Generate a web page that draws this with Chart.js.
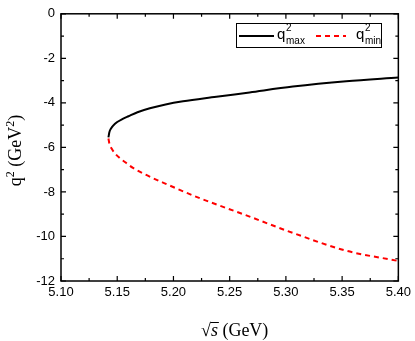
<!DOCTYPE html>
<html>
<head>
<meta charset="utf-8">
<script src="https://cdn.jsdelivr.net/npm/chart.js@4/dist/chart.umd.min.js"></script>
<style>
  html, body { margin: 0; padding: 0; background: #fff; }
  #wrap { width: 415px; height: 341px; }
</style>
</head>
<body>
<div id="wrap"><canvas id="chart" width="415" height="341"></canvas></div>
<script>
// values
const sqrtSMax = [5.1422, 5.1430, 5.1445, 5.1464, 5.1500, 5.1545, 5.1600, 5.1680, 5.1790, 5.1930, 5.2085, 5.2382, 5.2677, 5.3062, 5.3536, 5.4000];
const q2Max    = [-5.55, -5.32, -5.15, -5.02, -4.86, -4.73, -4.60, -4.42, -4.24, -4.07, -3.93, -3.73, -3.53, -3.27, -3.03, -2.86];
const sqrtSMin = [5.1422, 5.1430, 5.1450, 5.1479, 5.1520, 5.1575, 5.1640, 5.1730, 5.1938, 5.2234, 5.2626, 5.3062, 5.3536, 5.4000];
const q2Min    = [-5.60, -5.82, -6.05, -6.26, -6.47, -6.68, -6.92, -7.17, -7.65, -8.28, -9.01, -9.84, -10.64, -11.10];
const xTicks = [5.10, 5.15, 5.20, 5.25, 5.30, 5.35, 5.40];
const yTicks = [0, -2, -4, -6, -8, -10, -12];

const toPoints = (xs, ys) => xs.map((x, i) => ({ x: x, y: ys[i] }));

const framePlugin = {
  id: "frame",
  afterDraw(chart) {
    const ctx = chart.ctx;
    const a = chart.chartArea;
    const xs = chart.scales.x;
    const ys = chart.scales.y;
    ctx.save();
    ctx.strokeStyle = "#000";
    ctx.lineWidth = 1.5;
    ctx.strokeRect(a.left, a.top, a.right - a.left, a.bottom - a.top);

    // inward ticks on all four sides
    ctx.lineWidth = 1.2;
    ctx.beginPath();
    for (let i = 0; i <= 12; i++) {
      const y = ys.getPixelForValue(-i);
      const len = i % 2 === 0 ? 5 : 3;
      ctx.moveTo(a.left, y); ctx.lineTo(a.left + len, y);
      ctx.moveTo(a.right, y); ctx.lineTo(a.right - len, y);
    }
    for (let i = 0; i <= 12; i++) {
      const x = xs.getPixelForValue(5.10 + i * 0.025);
      const len = i % 2 === 0 ? 5 : 3;
      ctx.moveTo(x, a.bottom); ctx.lineTo(x, a.bottom - len);
      ctx.moveTo(x, a.top); ctx.lineTo(x, a.top + len);
    }
    ctx.stroke();

    // y axis title: q^2 (GeV^2)
    ctx.fillStyle = "#000";
    ctx.translate(21, (a.top + a.bottom) / 2 + 3);
    ctx.rotate(-Math.PI / 2);
    ctx.textBaseline = "alphabetic";
    ctx.textAlign = "left";
    const big = "18px 'Liberation Serif', 'Times New Roman', serif";
    const small = "12px 'Liberation Serif', 'Times New Roman', serif";
    let parts = [["q", big, 0], ["2", small, -7], [" (GeV", big, 0], ["2", small, -7], [")", big, 0]];
    let w = 0;
    parts.forEach(p => { ctx.font = p[1]; w += ctx.measureText(p[0]).width; });
    let cx = -w / 2;
    parts.forEach(p => {
      ctx.font = p[1];
      ctx.fillText(p[0], cx, 0 + p[2]);
      cx += ctx.measureText(p[0]).width;
    });
    ctx.restore();

    // x axis title: sqrt(s) (GeV)
    ctx.save();
    ctx.fillStyle = "#000";
    ctx.strokeStyle = "#000";
    const bx = 201, by = 336;
    ctx.font = big;
    ctx.textBaseline = "alphabetic";
    ctx.fillText("\u221A", bx, by);
    const rw = ctx.measureText("\u221A").width;
    ctx.font = "italic " + big;
    ctx.fillText("s", bx + rw, by);
    const sw = ctx.measureText("s").width;
    ctx.lineWidth = 1;
    ctx.beginPath();
    ctx.moveTo(bx + rw - 0.5, by - 13.5);
    ctx.lineTo(bx + rw + sw + 1, by - 13.5);
    ctx.stroke();
    ctx.font = big;
    ctx.fillText(" (GeV)", bx + rw + sw, by);
    ctx.restore();

    // legend box
    ctx.save();
    ctx.fillStyle = "#fff";
    ctx.fillRect(236, 23, 145, 25);
    ctx.strokeStyle = "#000";
    ctx.lineWidth = 1;
    ctx.strokeRect(236.5, 23.5, 145, 24);
    ctx.lineWidth = 2;
    ctx.beginPath();
    ctx.moveTo(239, 36); ctx.lineTo(274, 36);
    ctx.stroke();
    ctx.strokeStyle = "#ff0000";
    ctx.setLineDash([5, 4]);
    ctx.beginPath();
    ctx.moveTo(316, 36); ctx.lineTo(346, 36);
    ctx.stroke();
    ctx.setLineDash([]);
    ctx.fillStyle = "#000";
    ctx.textBaseline = "alphabetic";
    const lf = "15px 'Liberation Sans', Arial, sans-serif";
    const sf = "10px 'Liberation Sans', Arial, sans-serif";
    ctx.font = lf; ctx.fillText("q", 277, 39);
    ctx.font = sf; ctx.fillText("2", 286, 31); ctx.fillText("max", 286, 44);
    ctx.font = lf; ctx.fillText("q", 356, 39);
    ctx.font = sf; ctx.fillText("2", 365, 31); ctx.fillText("min", 365, 44);
    ctx.restore();
  }
};

new Chart(document.getElementById("chart"), {
  type: "scatter",
  data: {
    datasets: [
      {
        label: "q2max",
        data: toPoints(sqrtSMax, q2Max),
        showLine: true,
        borderColor: "#000",
        borderWidth: 2,
        pointRadius: 0,
        cubicInterpolationMode: "monotone"
      },
      {
        label: "q2min",
        data: toPoints(sqrtSMin, q2Min),
        showLine: true,
        borderColor: "#ff0000",
        borderWidth: 2,
        borderDash: [5, 4],
        pointRadius: 0,
        cubicInterpolationMode: "monotone"
      }
    ]
  },
  options: {
    responsive: false,
    animation: false,
    layout: { padding: { top: 7, right: 16, left: 0, bottom: 0 } },
    plugins: { legend: { display: false }, tooltip: { enabled: false } },
    scales: {
      x: {
        type: "linear",
        min: 5.10,
        max: 5.40,
        afterBuildTicks: s => { s.ticks = xTicks.map(v => ({ value: v })); },
        afterFit: s => { s.height = 60; },
        grid: { display: false, drawTicks: false },
        border: { display: false },
        ticks: {
          color: "#000",
          padding: 4,
          maxRotation: 0,
          font: { family: "'Liberation Sans', Arial, sans-serif", size: 13 },
          callback: v => v.toFixed(2)
        }
      },
      y: {
        type: "linear",
        min: -12,
        max: 0,
        afterBuildTicks: s => { s.ticks = yTicks.map(v => ({ value: v })); },
        afterFit: s => { s.width = 61; },
        grid: { display: false, drawTicks: false },
        border: { display: false },
        ticks: {
          color: "#000",
          padding: 6,
          font: { family: "'Liberation Sans', Arial, sans-serif", size: 13 }
        }
      }
    }
  },
  plugins: [framePlugin]
});
</script>
</body>
</html>
